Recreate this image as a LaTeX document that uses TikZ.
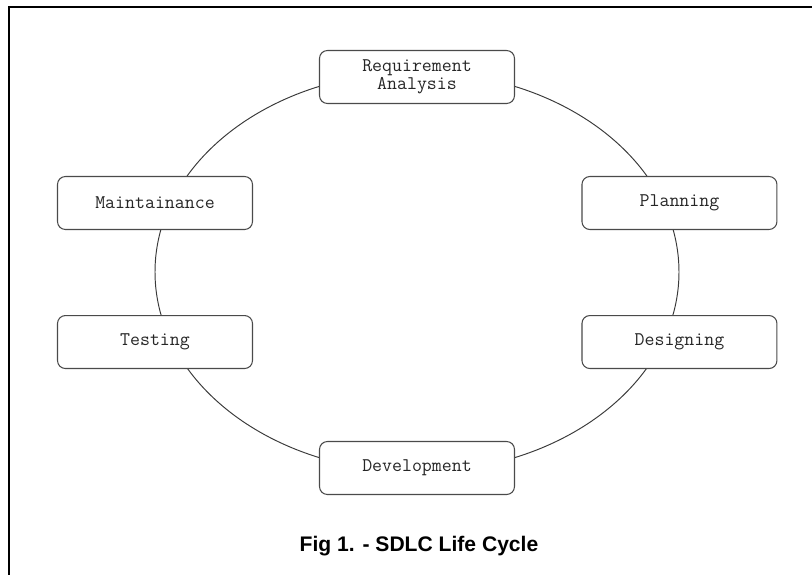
\documentclass[tikz,border=0pt]{standalone}
\usepackage{fontspec}
\setmainfont{Liberation Sans}
\usepackage{tikz}
\usepackage{xcolor}
\usetikzlibrary{positioning}
\definecolor{sdlcline}{HTML}{3A3A3A}
\definecolor{sdlcbox}{HTML}{4A4A4A}
\definecolor{sdlctext}{HTML}{262626}
\tikzset{
  phase/.style={draw=sdlcbox, fill=white, line width=0.6pt, rounded corners=4.5pt, align=center, inner sep=2pt, minimum width=3.9cm, minimum height=1.06cm, text=sdlctext, font=\ttfamily\fontsize{11}{10}\selectfont},
  ring/.style={draw=sdlcline, line width=0.55pt},
  frame/.style={draw=black, line width=1.1pt},
  caption/.style={font=\bfseries\fontsize{12}{14}\selectfont, text=black}
}

\begin{document}
\begin{tikzpicture}[x=0.02cm, y=-0.02cm, node distance=1.7cm and 6.57cm]
  \useasboundingbox (0,0) rectangle (812,575);
  \draw[frame] (812,7) -- (9,7) -- (9,575);
  \coordinate (c) at (417,272);
  \draw[ring] (c) ellipse [x radius=262, y radius=200];
  \node[phase] (maint) at (155,203) {Maintainance};
  \node[phase, below=of maint] (test) {Testing};
  \node[phase, right=of maint] (plan) {Planning};
  \node[phase, right=of test] (design) {Designing};
  \node[phase] (req) at (417,77) {Requirement\\Analysis};
  \node[phase] (dev) at (417,468) {Development};
  \node[caption] (cap) at (419,546) {Fig 1. - SDLC Life Cycle};
\end{tikzpicture}
\end{document}
